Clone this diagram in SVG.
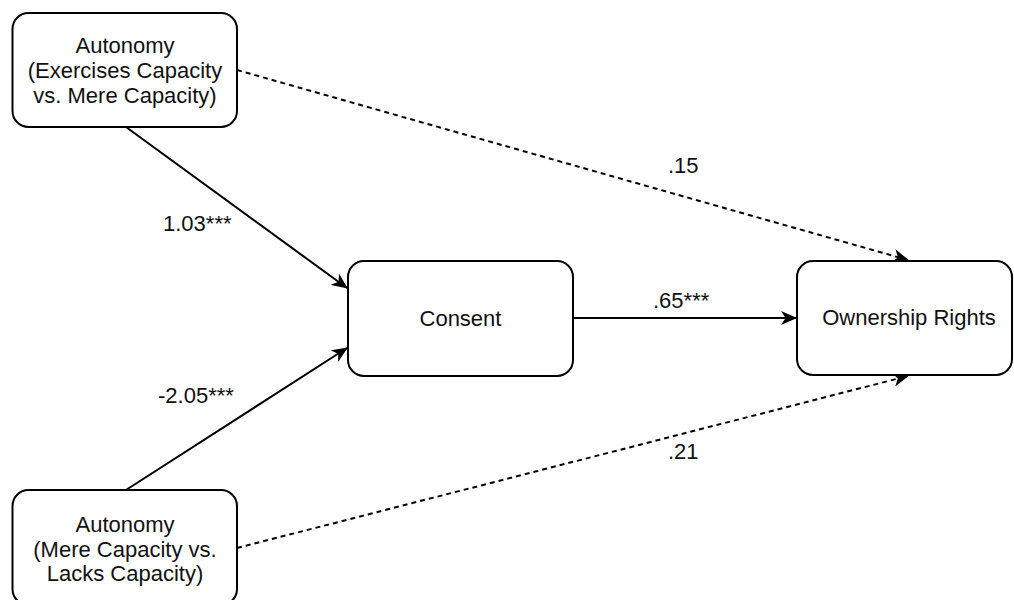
<svg xmlns="http://www.w3.org/2000/svg" width="1014" height="600" viewBox="0 0 1014 600">
<defs>
<style>
.box{fill:#fff;stroke:#000;stroke-width:2}
.t{font-family:"Liberation Sans",Arial,sans-serif;font-size:22px;fill:#111;text-anchor:middle}
.lbl{font-family:"Liberation Sans",Arial,sans-serif;font-size:22px;fill:#111}
.edge{fill:none;stroke:#000;stroke-width:2}
.dash{stroke-dasharray:5 4}
</style>
<marker id="arr" viewBox="0 0 16 14" refX="15" refY="7" markerWidth="16" markerHeight="14" markerUnits="userSpaceOnUse" orient="auto">
<path d="M0,0 L16,7 L0,14 L4.5,7 Z" fill="#000"/>
</marker>
</defs>
<rect width="1014" height="600" fill="#fff"/>
<g id="connectors">
<line class="edge" x1="126" y1="127" x2="347" y2="288" marker-end="url(#arr)"/>
<line class="edge" x1="126" y1="490" x2="347" y2="348" marker-end="url(#arr)"/>
<line class="edge" x1="573" y1="318" x2="796" y2="318" marker-end="url(#arr)"/>
<line class="edge dash" x1="237" y1="70" x2="908" y2="260" marker-end="url(#arr)"/>
<line class="edge dash" x1="237" y1="548" x2="908" y2="376" marker-end="url(#arr)"/>
<text class="lbl" x="163" y="231">1.03***</text>
<text class="lbl" x="158" y="403">-2.05***</text>
<text class="lbl" x="653" y="308">.65***</text>
<text class="lbl" x="668" y="173">.15</text>
<text class="lbl" x="668" y="459">.21</text>
</g>
<g id="node-autonomy-top">
<rect class="box" x="12.5" y="13" width="224.5" height="114" rx="16"/>
<text class="t" x="125" y="53">Autonomy</text>
<text class="t" x="125" y="78">(Exercises Capacity</text>
<text class="t" x="125" y="103">vs. Mere Capacity)</text>
</g>
<g id="node-autonomy-bottom">
<rect class="box" x="12.5" y="490" width="224.5" height="115" rx="16"/>
<text class="t" x="125" y="532">Autonomy</text>
<text class="t" x="125" y="557">(Mere Capacity vs.</text>
<text class="t" x="125" y="581">Lacks Capacity)</text>
</g>
<g id="node-consent">
<rect class="box" x="348" y="261" width="225" height="115" rx="16"/>
<text class="t" x="460.5" y="326">Consent</text>
</g>
<g id="node-ownership">
<rect class="box" x="797" y="261" width="215" height="114" rx="16"/>
<text class="t" x="909" y="325">Ownership Rights</text>
</g>
</svg>
